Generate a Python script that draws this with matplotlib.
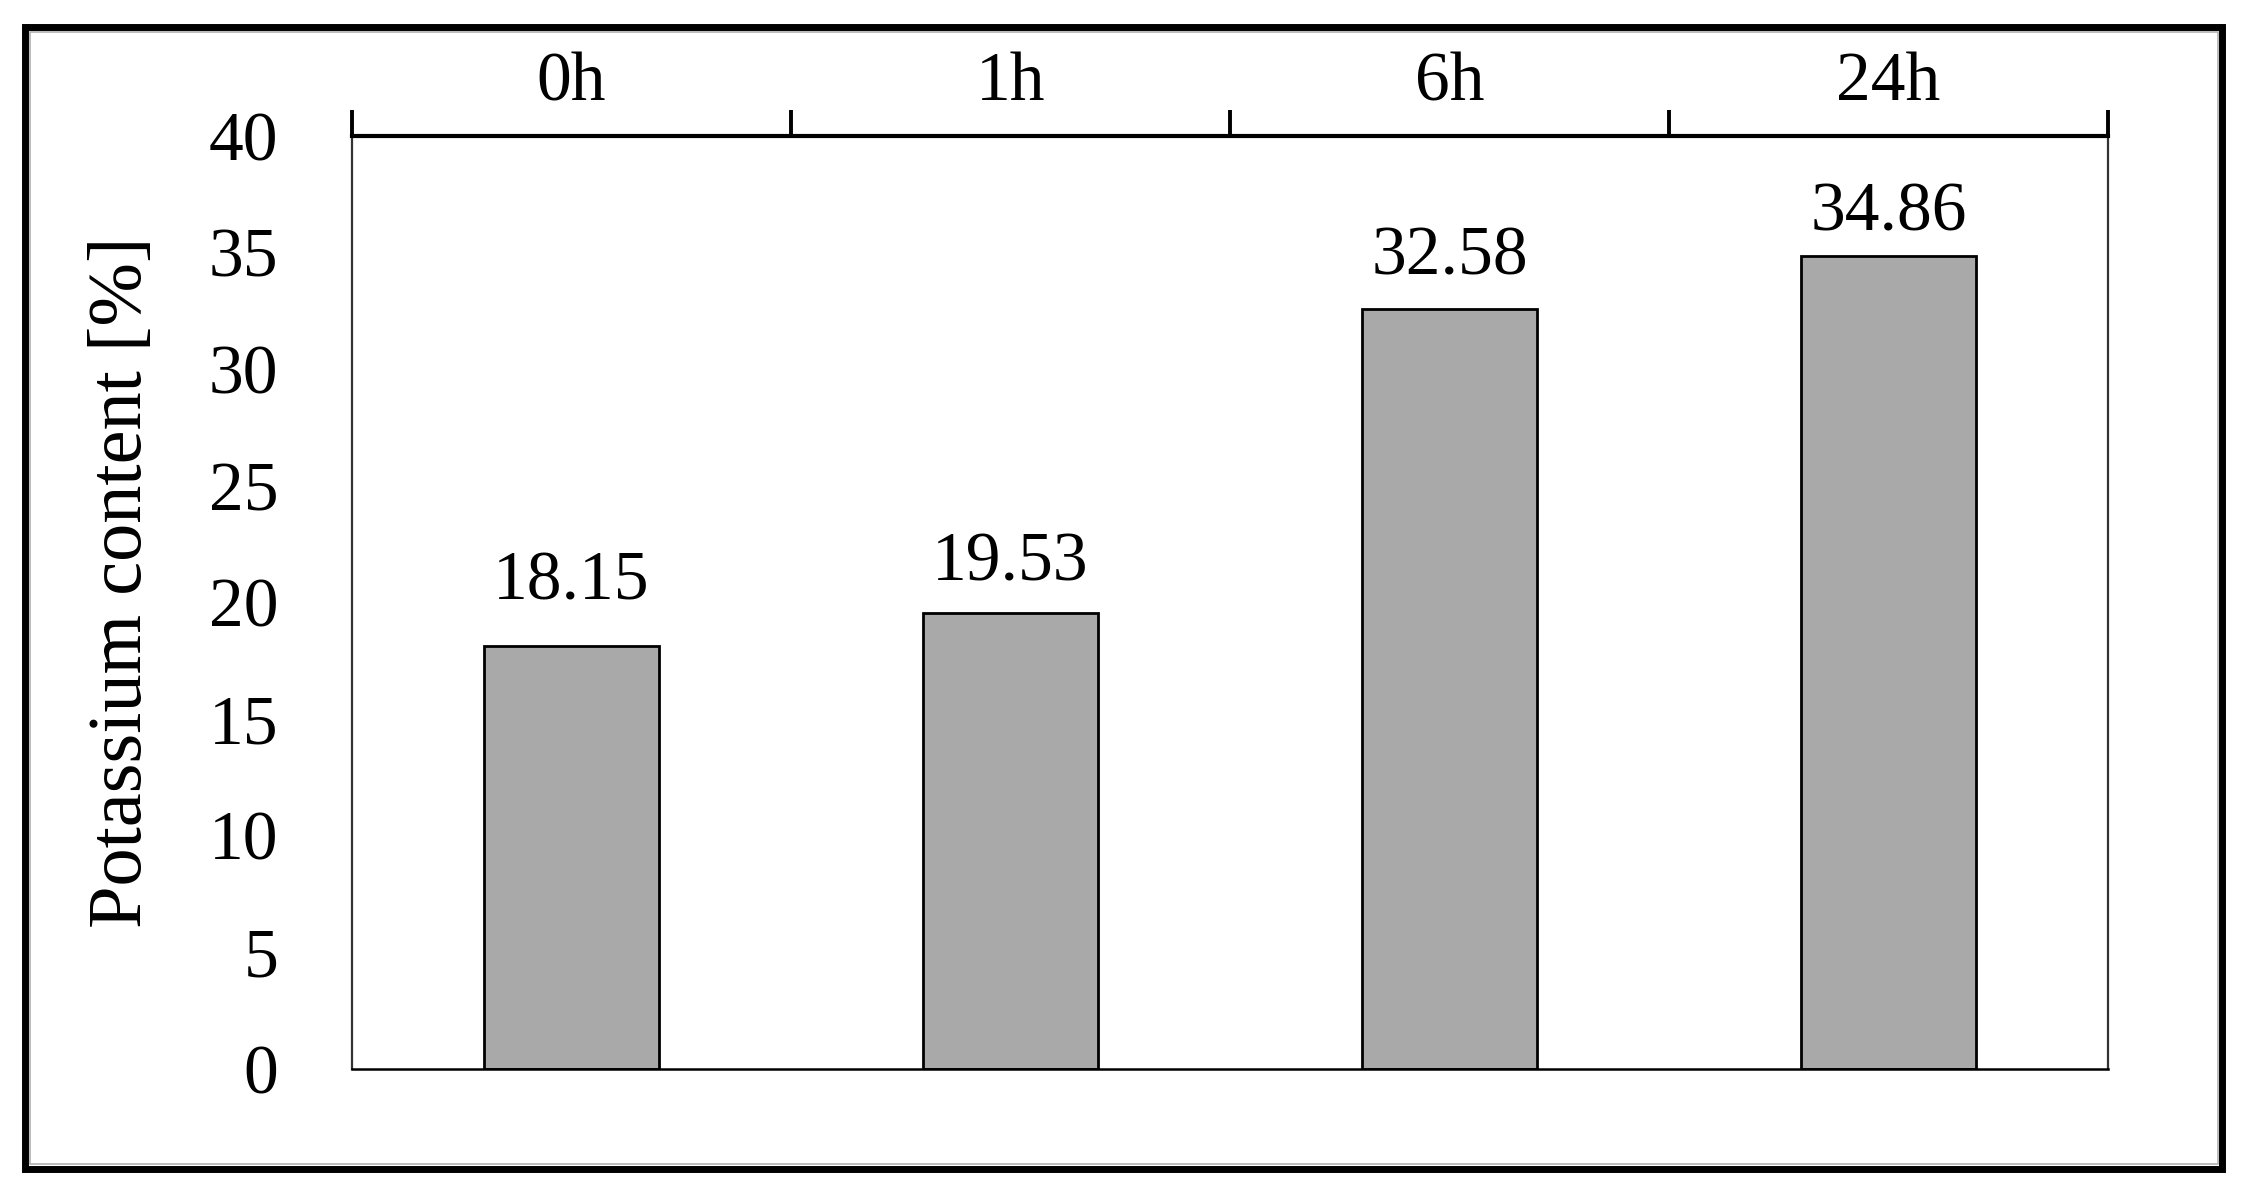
import matplotlib.pyplot as plt
from matplotlib.patches import Rectangle
import numpy as np

# data
categories = ["0h", "1h", "6h", "24h"]
potassium = [18.15, 19.53, 32.58, 34.86]
y_ticks = [0, 5, 10, 15, 20, 25, 30, 35, 40]

# label gaps above each bar (points), as placed in the original
label_gap_pt = [33, 24, 25, 18]

plt.rcParams['font.family'] = ['Liberation Serif', 'DejaVu Serif']

W, H, DPI = 2256, 1195, 100
fig = plt.figure(figsize=(W / DPI, H / DPI), dpi=DPI)

# thick outer frame with a thin grey inner line
fig.patches.append(Rectangle((24.5 / W, 26.5 / H), 2197 / W, 1142 / H,
                             transform=fig.transFigure, fill=False,
                             edgecolor='black', linewidth=5.0))
fig.patches.append(Rectangle((29.5 / W, 31.5 / H), 2188 / W, 1132 / H,
                             transform=fig.transFigure, fill=False,
                             edgecolor='#b0b0b0', linewidth=1.2))

ax = fig.add_axes([352 / W, 126 / H, 1756 / W, 933 / H])

x = np.arange(len(categories))
bars = ax.bar(x, potassium, width=0.4, color='#a9a9a9',
              edgecolor='black', linewidth=2.0)

for rect, v, gap in zip(bars, potassium, label_gap_pt):
    ax.annotate(f"{v:.2f}", (rect.get_x() + rect.get_width() / 2, v),
                xytext=(0, gap), textcoords='offset points',
                ha='center', va='baseline', fontsize=50)

ax.set_xlim(-0.5, len(categories) - 0.5)
ax.set_ylim(0, 40)
ax.set_yticks(y_ticks)
ax.tick_params(axis='y', length=0, pad=53, labelsize=50)

# category axis drawn on top, with boundary ticks
ax.xaxis.tick_top()
ax.set_xticks(np.arange(len(categories) + 1) - 0.5)
ax.set_xticklabels([])
ax.set_xticks(x, minor=True)
ax.set_xticklabels(categories, minor=True)
ax.tick_params(axis='x', which='major', direction='out', length=19,
               width=2.8, color='black')
ax.tick_params(axis='x', which='minor', length=0, pad=15, labelsize=50)

ax.spines['top'].set_linewidth(3.0)
ax.spines['bottom'].set_linewidth(1.8)
for s in ['left', 'right']:
    ax.spines[s].set_linewidth(1.6)
    ax.spines[s].set_color('#333333')

fig.text(123 / W, (H - 582) / H, "Potassium content [%]", rotation=90,
         ha='center', va='center', fontsize=55)

fig.savefig("out.png", dpi=DPI)
